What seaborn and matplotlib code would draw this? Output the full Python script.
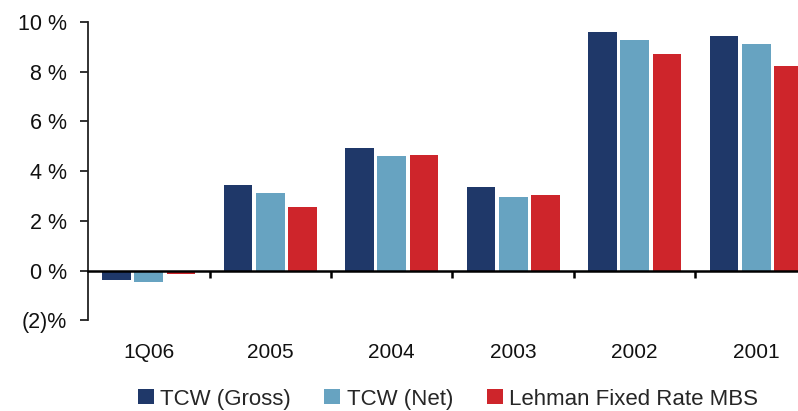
import matplotlib
matplotlib.use("Agg")
import matplotlib.pyplot as plt
import matplotlib.transforms as mtransforms
import numpy as np
import pandas as pd
import seaborn as sns

# Annual returns (%) by period
periods = ["1Q06", "2005", "2004", "2003", "2002", "2001"]
tcw_gross = [-0.37, 3.45, 4.93, 3.37, 9.60, 9.44]
tcw_net = [-0.45, 3.12, 4.61, 2.96, 9.27, 9.12]
lehman_mbs = [-0.13, 2.56, 4.65, 3.04, 8.71, 8.23]

series_names = ["TCW (Gross)", "TCW (Net)", "Lehman Fixed Rate MBS"]
series_colors = ["#1F3869", "#67A3C1", "#CE252B"]

y_ticks = [-2, 0, 2, 4, 6, 8, 10]
y_tick_labels = ["(2)%", "0 %", "2 %", "4 %", "6 %", "8 %", "10 %"]

df = pd.DataFrame({
    "period": periods * 3,
    "value": tcw_gross + tcw_net + lehman_mbs,
    "series": [s for s in series_names for _ in periods],
})

sns.set_theme(style="white")
plt.rcParams["font.family"] = ["Liberation Sans", "DejaVu Sans"]

W, H = 798, 411
fig = plt.figure(figsize=(W / 100, H / 100), dpi=100)
left_px, right_px = 88, 817
top_px, bot_px = 22, 320.4
ax = fig.add_axes([left_px / W, 1 - bot_px / H,
                   (right_px - left_px) / W, (bot_px - top_px) / H])

sns.barplot(data=df, x="period", y="value", hue="series", order=periods,
            hue_order=series_names, palette=series_colors, width=0.8,
            gap=0.12, saturation=1, errorbar=None, linewidth=0, ax=ax)

handles, labels = ax.get_legend_handles_labels()
if ax.legend_ is not None:
    ax.legend_.remove()

ax.set_xlim(-0.5, len(periods) - 0.5)
ax.set_ylim(-2, 10)
ax.set_xlabel("")
ax.set_ylabel("")

# Spines: left axis and a zero baseline
for side in ["top", "right"]:
    ax.spines[side].set_visible(False)
ax.spines["left"].set_color("#222222")
ax.spines["left"].set_linewidth(1.3)
ax.spines["bottom"].set_position(("data", 0))
ax.spines["bottom"].set_color("black")
ax.spines["bottom"].set_linewidth(1.8)

ax.set_yticks(y_ticks)
ax.set_yticklabels(y_tick_labels, fontsize=15.5, color="#111111")
ax.tick_params(axis="y", direction="out", length=6, width=1.3,
               color="#222222", pad=9, left=True)

# Category separators as ticks on the baseline
bounds = np.arange(0.5, len(periods) - 0.5, 1.0)
ax.set_xticks(bounds)
ax.set_xticklabels([])
ax.tick_params(axis="x", direction="out", length=5, width=1.8,
               color="black", bottom=True)

# Category labels below the plot
trans = mtransforms.blended_transform_factory(ax.transData, fig.transFigure)
for i, p in enumerate(periods):
    ax.text(i, 1 - 353 / H, p, transform=trans, ha="center", va="center",
            fontsize=15, color="#111111", clip_on=False)

fig.legend(handles, labels, loc="center", ncol=3, frameon=False,
           bbox_to_anchor=(448 / W, 1 - 399 / H), fontsize=16,
           handlelength=0.72, handleheight=0.68, handletextpad=0.3,
           columnspacing=1.5, borderaxespad=0, borderpad=0)

fig.savefig("out.png", dpi=100)
